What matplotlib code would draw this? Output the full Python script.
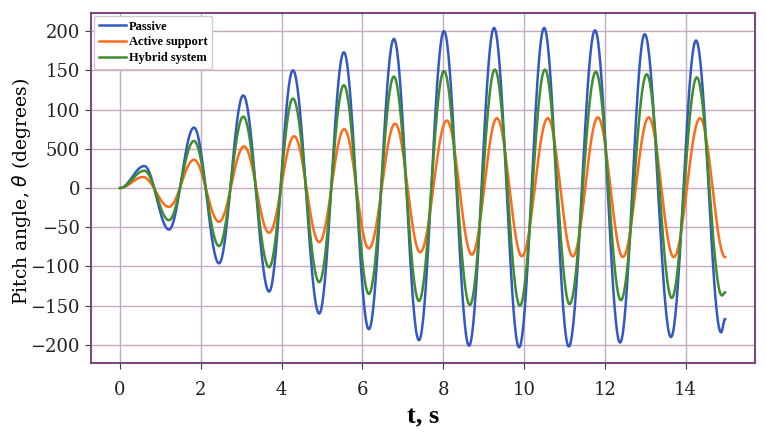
import numpy as np
import matplotlib
matplotlib.use('Agg')
import matplotlib.pyplot as plt

# extrema (time in s, angle)
t_passive = [0.0, 0.60, 1.21, 1.83, 2.45, 3.05, 3.69, 4.28, 4.93, 5.54, 6.16, 6.78, 7.40,
             8.02, 8.64, 9.26, 9.88, 10.50, 11.11, 11.76, 12.38, 12.99, 13.64, 14.26, 14.88, 14.98]
passive = [0, 28, -53, 77, -96, 118, -132, 150, -160, 173, -180, 190, -194,
           200, -201, 204, -203, 204, -202, 201, -197, 196, -190, 188, -184, -167]

t_active = [0.0, 0.57, 1.21, 1.83, 2.45, 3.07, 3.69, 4.31, 4.93, 5.55, 6.16, 6.81, 7.43,
            8.09, 8.71, 9.33, 9.95, 10.59, 11.21, 11.83, 12.45, 13.09, 13.71, 14.36, 14.98]
active = [0, 14, -24, 36, -43, 53, -57, 66, -69, 75, -77, 82, -82,
          86, -85, 89, -87, 89, -87, 90, -88, 90, -88, 89, -88]

t_hybrid = [0.0, 0.60, 1.21, 1.83, 2.45, 3.05, 3.69, 4.28, 4.93, 5.54, 6.16, 6.78, 7.40,
            8.02, 8.66, 9.28, 9.90, 10.52, 11.13, 11.78, 12.40, 13.04, 13.66, 14.28, 14.90, 14.98]
hybrid = [0, 22, -41, 60, -74, 91, -101, 114, -120, 131, -135, 142, -144,
          149, -149, 151, -150, 151, -148, 148, -143, 145, -140, 141, -137, -133]

yticks = [200, 150, 100, 50, 0, -50, -100, -150, -200]
ytick_labels = ['200', '150', '100', '500', '0', '\u221250', '\u2212100', '\u2212150', '\u2212200']


def smooth(tp, vp, n=40):
    # half cosine between consecutive extrema
    ts, vs = [], []
    for i in range(len(tp) - 1):
        s = np.linspace(0, 1, n, endpoint=False)
        w = (1 - np.cos(np.pi * s)) / 2
        ts.append(tp[i] + (tp[i + 1] - tp[i]) * s)
        vs.append(vp[i] + (vp[i + 1] - vp[i]) * w)
    ts.append([tp[-1]])
    vs.append([vp[-1]])
    return np.concatenate(ts), np.concatenate(vs)


fig = plt.figure(figsize=(7.66, 4.34), dpi=100)
ax = fig.add_axes([0.1188, 0.1636, 0.8668, 0.8064])

for tp, vp, c, lab in [(t_passive, passive, '#3358c4', 'Passive'),
                       (t_active, active, '#ff6a1c', 'Active support'),
                       (t_hybrid, hybrid, '#3e8f2c', 'Hybrid system')]:
    x, y = smooth(tp, vp)
    ax.plot(x, y, color=c, lw=1.8, label=lab)

ax.set_xlim(-0.72, 15.72)
ax.set_ylim(-223, 223)
ax.set_xticks(range(0, 15, 2))
ax.set_yticks(yticks)
ax.set_yticklabels(ytick_labels)
ax.grid(True, color='#c4a9c0', lw=1.0)
ax.set_axisbelow(True)
for sp in ax.spines.values():
    sp.set_color('#7b4a7b')
    sp.set_linewidth(1.5)
ax.tick_params(direction='out', length=4, color='#4a3040', labelsize=13)
ax.tick_params(axis='x', pad=9)
ax.tick_params(axis='y', pad=4)
for lbl in ax.get_xticklabels() + ax.get_yticklabels():
    lbl.set_family('DejaVu Serif')
    lbl.set_color('#222222')

ax.set_xlabel('t, s', fontsize=19, fontweight='bold', family='Liberation Serif')
ax.xaxis.set_label_coords(0.5, -0.12)
ax.set_ylabel(r'Pitch angle, $\theta$ (degrees)', fontsize=13.5, family='DejaVu Serif')
ax.yaxis.set_label_coords(-0.088, 0.49)

leg = ax.legend(loc='upper left', prop={'family': 'Liberation Serif', 'weight': 'bold', 'size': 9},
                handlelength=2.2, handletextpad=0.2, borderaxespad=0.2, labelspacing=0.3,
                fancybox=True, framealpha=1, edgecolor='#cccccc')

fig.savefig('out.png', dpi=100)
